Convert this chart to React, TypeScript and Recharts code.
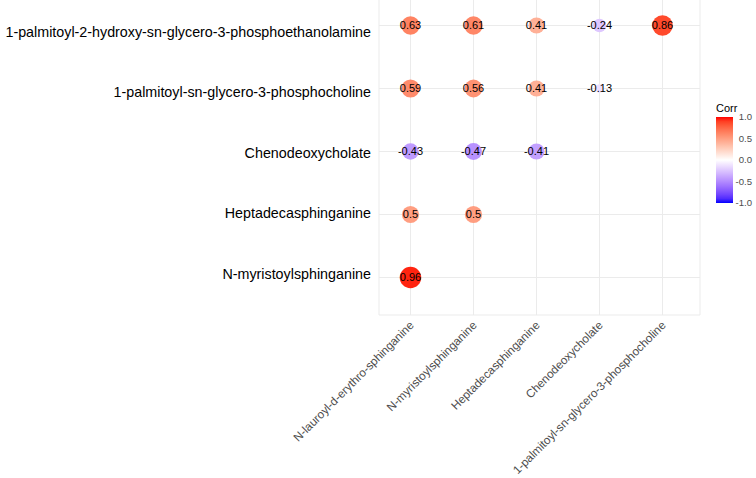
import React from "react";
import { ScatterChart, Scatter, XAxis, YAxis, CartesianGrid } from "recharts";

const xCats = [
  "N-lauroyl-d-erythro-sphinganine",
  "N-myristoylsphinganine",
  "Heptadecasphinganine",
  "Chenodeoxycholate",
  "1-palmitoyl-sn-glycero-3-phosphocholine",
];

// rows listed top -> bottom as they appear in the plot
const yCats = [
  "1-palmitoyl-2-hydroxy-sn-glycero-3-phosphoethanolamine",
  "1-palmitoyl-sn-glycero-3-phosphocholine",
  "Chenodeoxycholate",
  "Heptadecasphinganine",
  "N-myristoylsphinganine",
];

const rowPE = [0.63, 0.61, 0.41, -0.24, 0.86];
const rowPC = [0.59, 0.56, 0.41, -0.13];
const rowCDCA = [-0.43, -0.47, -0.41];
const rowHepta = [0.5, 0.5];
const rowMyr = [0.96];

const rows = [rowPE, rowPC, rowCDCA, rowHepta, rowMyr];
const legendTicks = [1.0, 0.5, 0.0, -0.5, -1.0];

// build long table: column by column, rows bottom -> top (category y axis starts at the bottom)
const points: { x: string; y: string; v: number }[] = [];
xCats.forEach((xc, j) => {
  for (let i = yCats.length - 1; i >= 0; i--) {
    const val = rows[i][j];
    if (val !== undefined) points.push({ x: xc, y: yCats[i], v: val });
  }
});

const absVals = points.map((p) => Math.abs(p.v));
const absMin = Math.min(...absVals);
const absMax = Math.max(...absVals);

// blue - white - red gradient interpolated in Lab, like scale_fill_gradient2
const LAB_WHITE = [100, 0, 0];
const LAB_RED = [53.24, 80.09, 67.2];
const LAB_BLUE = [32.3, 79.19, -107.86];

function labToHex(L: number, a: number, b: number) {
  const fy = (L + 16) / 116;
  const fx = fy + a / 500;
  const fz = fy - b / 200;
  const inv = (t: number) => (t > 6 / 29 ? t * t * t : 3 * (6 / 29) * (6 / 29) * (t - 4 / 29));
  const X = 0.95047 * inv(fx);
  const Y = inv(fy);
  const Z = 1.08883 * inv(fz);
  const lin = [
    3.2404542 * X - 1.5371385 * Y - 0.4985314 * Z,
    -0.969266 * X + 1.8760108 * Y + 0.041556 * Z,
    0.0556434 * X - 0.2040259 * Y + 1.0572252 * Z,
  ];
  return (
    "#" +
    lin
      .map((c) => {
        const cc = Math.min(1, Math.max(0, c));
        const g = cc <= 0.0031308 ? 12.92 * cc : 1.055 * Math.pow(cc, 1 / 2.4) - 0.055;
        return Math.round(g * 255).toString(16).padStart(2, "0");
      })
      .join("")
  );
}

function corrColor(v: number) {
  const end = v >= 0 ? LAB_RED : LAB_BLUE;
  const t = Math.min(1, Math.abs(v));
  return labToHex(
    LAB_WHITE[0] + (end[0] - LAB_WHITE[0]) * t,
    LAB_WHITE[1] + (end[1] - LAB_WHITE[1]) * t,
    LAB_WHITE[2] + (end[2] - LAB_WHITE[2]) * t
  );
}

// area-style size scale (range 4..10)
function radiusFor(v: number) {
  const t = (Math.abs(v) - absMin) / (absMax - absMin || 1);
  return 1.075 * (4 + 6 * Math.sqrt(t));
}

const FONT = "'Liberation Sans', Arial, sans-serif";

function CorrDot(props: any) {
  const { cx, cy, payload } = props;
  if (cx == null || cy == null) return null;
  return (
    <g>
      <circle cx={cx} cy={cy} r={radiusFor(payload.v)} fill={corrColor(payload.v)} />
      <text x={cx} y={cy} dy="0.36em" textAnchor="middle" fontSize={11} fontFamily={FONT} fill="#000">
        {String(payload.v)}
      </text>
    </g>
  );
}

function XTick(props: any) {
  const { x, y, payload } = props;
  return (
    <g transform={`translate(${x + 4},${y + 11})`}>
      <text textAnchor="end" transform="rotate(-45)" fontSize={11.7} fontFamily={FONT} fill="#4d4d4d">
        {payload.value}
      </text>
    </g>
  );
}

// row labels sit slightly closer together than the rows themselves
const Y_LABEL_MID = 164;
const Y_LABEL_SHIFT = 1.2;
const Y_LABEL_SQUEEZE = 0.961;

function YTick(props: any) {
  const { x, y, payload } = props;
  const ty = Y_LABEL_MID + Y_LABEL_SHIFT + (y - Y_LABEL_MID) * Y_LABEL_SQUEEZE;
  return (
    <text x={x} y={ty} dy="0.35em" textAnchor="end" fontSize={14.3} fontFamily={FONT} fill="#000">
      {payload.value}
    </text>
  );
}

function CorrLegend() {
  const stops = Array.from({ length: 21 }, (_, i) => 1 - i / 10);
  const barTop = 22;
  const h = 86;
  return (
    <svg width={50} height={120} style={{ position: "absolute", left: 706, top: 95 }}>
      <defs>
        <linearGradient id="corrGrad" x1="0" y1="0" x2="0" y2="1">
          {stops.map((s, i) => (
            <stop key={i} offset={i / (stops.length - 1)} stopColor={corrColor(s)} />
          ))}
        </linearGradient>
      </defs>
      <text x={10} y={17} fontSize={11} fontFamily={FONT} fill="#000">
        Corr
      </text>
      <rect x={10} y={barTop} width={17} height={h} fill="url(#corrGrad)" />
      {legendTicks.map((t) => (
        <text
          key={t}
          x={46}
          y={barTop + ((1 - t) / 2) * h}
          dy="0.35em"
          textAnchor="end"
          fontSize={9.6}
          fontFamily={FONT}
          fill="#4d4d4d"
        >
          {t.toFixed(1)}
        </text>
      ))}
    </svg>
  );
}

export default function App() {
  return (
    <div
      style={{
        position: "fixed",
        left: 0,
        top: 0,
        width: 756,
        height: 478,
        overflow: "hidden",
        background: "#fff",
      }}
    >
      <div style={{ position: "absolute", left: 0, top: -12 }}>
        <ScatterChart width={756} height={490} margin={{ top: 0, right: 56, bottom: 0, left: 0 }}>
          <CartesianGrid stroke="#ebebeb" strokeWidth={1} />
          <XAxis
            type="category"
            dataKey="x"
            allowDuplicatedCategory={false}
            interval={0}
            height={163}
            padding={{ left: 0, right: 6 }}
            tickLine={false}
            axisLine={false}
            tickSize={0}
            tickMargin={0}
            tick={<XTick />}
          />
          <YAxis
            type="category"
            dataKey="y"
            allowDuplicatedCategory={false}
            interval={0}
            width={379}
            padding={{ top: 6, bottom: 6 }}
            tickLine={false}
            axisLine={false}
            tickSize={0}
            tickMargin={8}
            tick={<YTick />}
          />
          <Scatter data={points} shape={<CorrDot />} isAnimationActive={false} />
        </ScatterChart>
      </div>
      <CorrLegend />
    </div>
  );
}
